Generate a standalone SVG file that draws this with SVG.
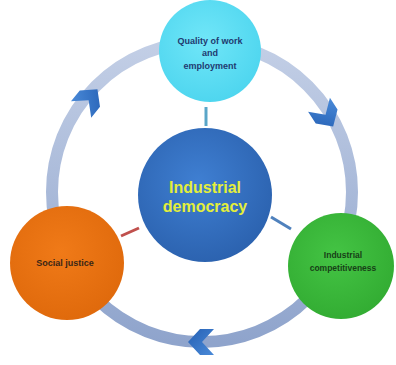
<svg xmlns="http://www.w3.org/2000/svg" width="396" height="365" viewBox="0 0 396 365">
<defs>
<radialGradient id="gBlue" cx="45%" cy="40%" r="60%"><stop offset="0" stop-color="#3f7fd2"/><stop offset="1" stop-color="#2c63b0"/></radialGradient>
<radialGradient id="gCyan" cx="45%" cy="40%" r="60%"><stop offset="0" stop-color="#70e6f8"/><stop offset="1" stop-color="#4fd6ef"/></radialGradient>
<radialGradient id="gOrange" cx="45%" cy="40%" r="60%"><stop offset="0" stop-color="#f07a18"/><stop offset="1" stop-color="#e06a0c"/></radialGradient>
<radialGradient id="gGreen" cx="45%" cy="40%" r="60%"><stop offset="0" stop-color="#44c444"/><stop offset="1" stop-color="#33ad33"/></radialGradient>
<linearGradient id="gArrow" x1="0" y1="0" x2="1" y2="1"><stop offset="0" stop-color="#4a8ad8"/><stop offset="1" stop-color="#2560b4"/></linearGradient>
<linearGradient id="gRing" x1="0" y1="0" x2="0" y2="1"><stop offset="0" stop-color="#c3cfe6"/><stop offset="1" stop-color="#8fa4cc"/></linearGradient>
<polygon id="chev" points="-11,-13 3,-13 15,0 3,13 -11,13 1,0"/>
</defs>
<style>
.lbl{font-family:"Liberation Sans",Arial,sans-serif;font-weight:bold;text-anchor:middle}
.main{font-family:"Liberation Sans",Arial,sans-serif;font-weight:bold;text-anchor:middle;font-size:16px;fill:#e4ef3a}
.conn{stroke-width:3;fill:none}
</style>
<g id="ring">
<circle cx="202" cy="192" r="150" fill="none" stroke="url(#gRing)" stroke-width="12"/>
<use href="#chev" transform="translate(88,101) rotate(-51)" fill="url(#gArrow)"/>
<use href="#chev" transform="translate(325,114) rotate(57)" fill="url(#gArrow)"/>
<use href="#chev" transform="translate(203,342) rotate(180)" fill="url(#gArrow)"/>
</g>
<g id="connectors">
<line class="conn" x1="206" y1="107" x2="206" y2="126" stroke="#5aa6c8"/>
<line class="conn" x1="121" y1="236" x2="139" y2="228" stroke="#c0504d"/>
<line class="conn" x1="271" y1="217" x2="291" y2="229" stroke="#4f81bd"/>
</g>
<g id="node-quality">
<circle cx="210" cy="51" r="51" fill="url(#gCyan)"/>
<text class="lbl" font-size="9" fill="#1f3a70"><tspan x="210" y="44">Quality of work</tspan><tspan x="210" y="56">and</tspan><tspan x="210" y="69">employment</tspan></text>
</g>
<g id="node-democracy">
<circle cx="205" cy="195" r="67" fill="url(#gBlue)"/>
<text class="main"><tspan x="205" y="193">Industrial</tspan><tspan x="205" y="212">democracy</tspan></text>
</g>
<g id="node-social">
<circle cx="67" cy="263" r="57" fill="url(#gOrange)"/>
<text class="lbl" x="65" y="266" font-size="9" fill="#3a2616">Social justice</text>
</g>
<g id="node-competitiveness">
<circle cx="341" cy="266" r="53" fill="url(#gGreen)"/>
<text class="lbl" font-size="8.5" fill="#173f17"><tspan x="343" y="258">Industrial</tspan><tspan x="343" y="271">competitiveness</tspan></text>
</g>
</svg>
